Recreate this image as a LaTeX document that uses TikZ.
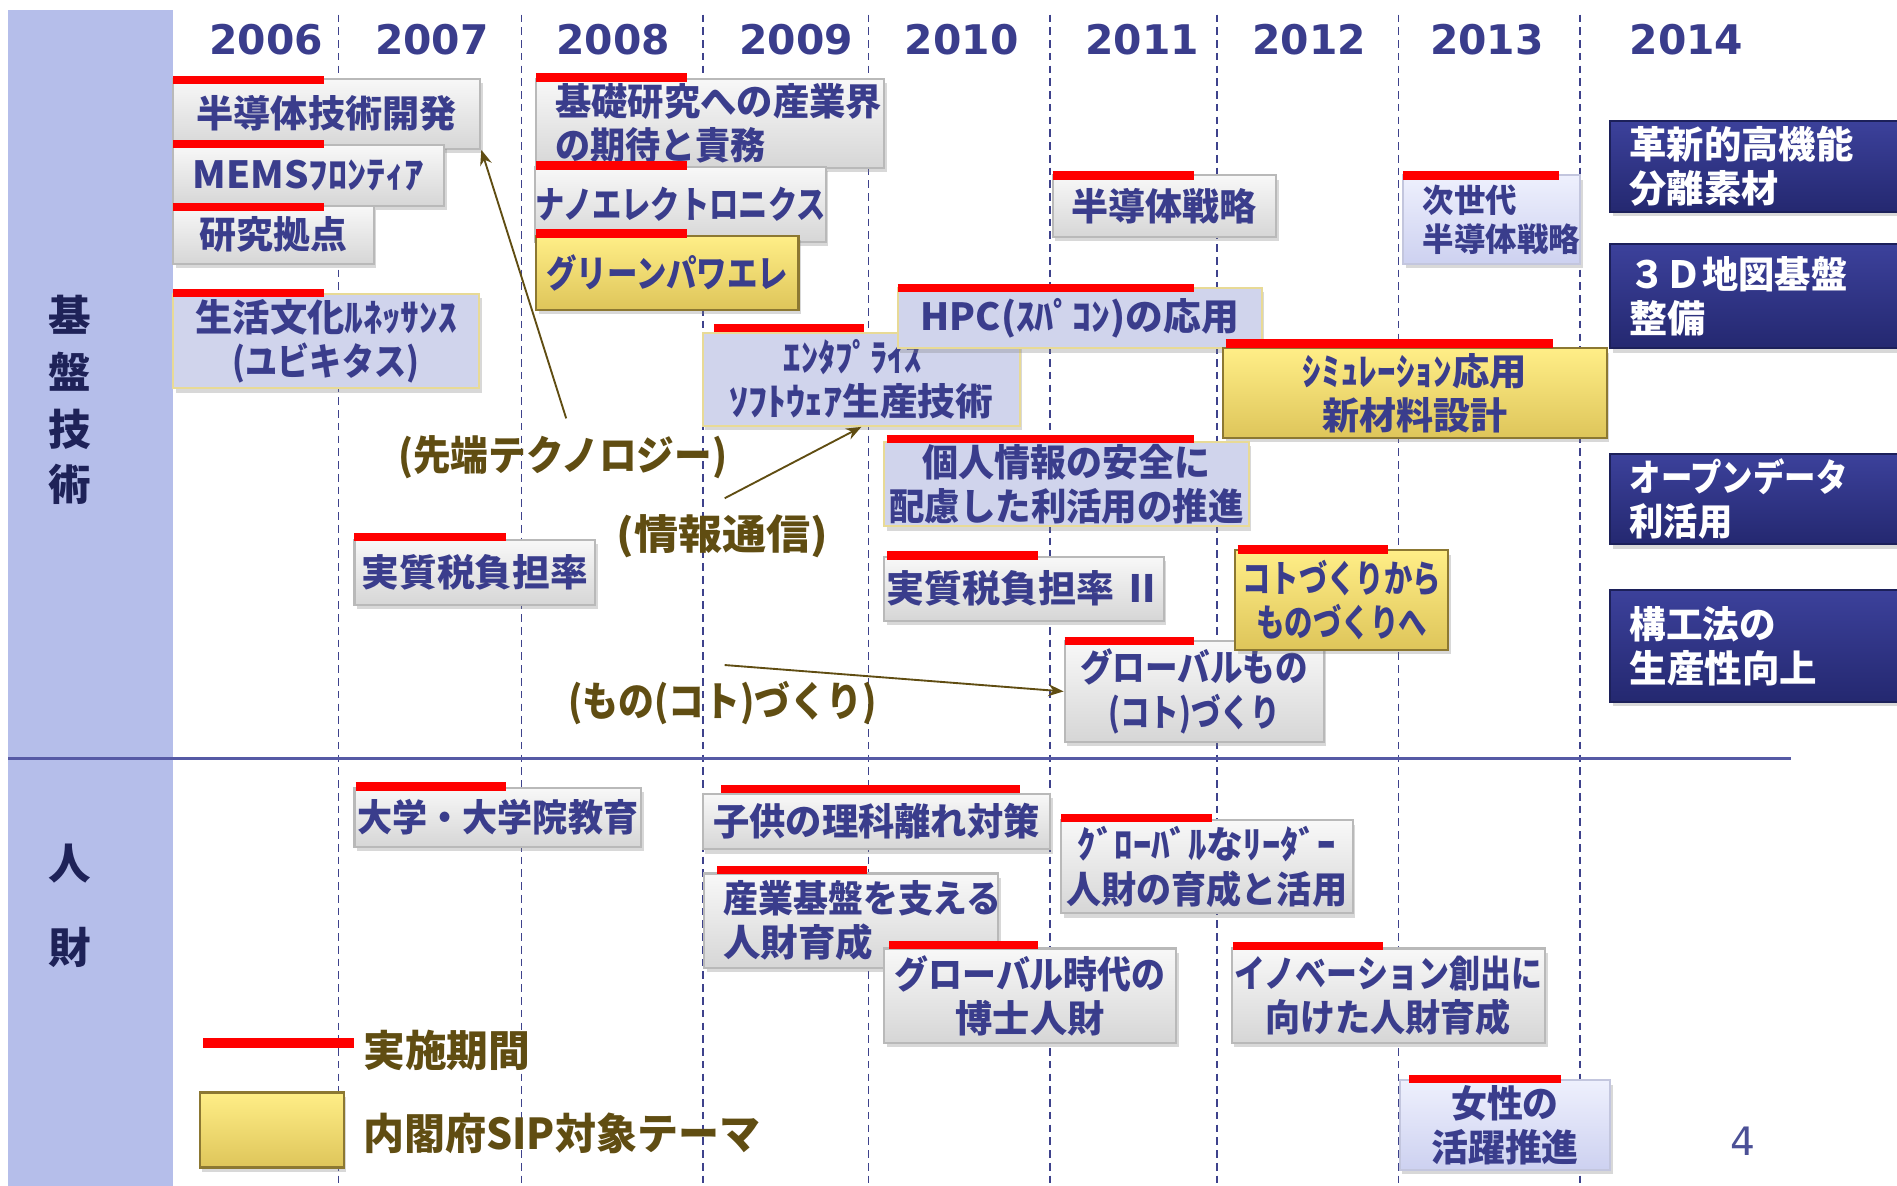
\documentclass[tikz,border=0pt]{standalone}
\usepackage{fontspec}
\usepackage{graphicx}
\usetikzlibrary{shadows,arrows.meta}
\newfontfamily\jp{Noto Sans CJK JP}
\newfontfamily\yr{DejaVu Sans}
\newlength\pxu
\setlength\pxu{0.025cm}
\newcommand\fw[2]{\resizebox{#1\pxu}{\height}{#2}}
\newcommand\ctr[1]{\vbox{\tabskip=0pt\halign{\hfil##\hfil\cr#1\crcr}}}
\newcommand\lft[2]{\vbox{\tabskip=0pt\halign{\hbox to #1\pxu{##\hfil}\cr#2\crcr}}}
\newcommand\bx[7]{\node[#1, minimum width={(#5-#3)*0.025cm}, minimum height={(#6-#4)*0.025cm}] (#2) at ({(#3+#5)/2},{(#4+#6)/2}) {#7};}
\definecolor{txt}{RGB}{58,61,140}
\definecolor{olivet}{RGB}{96,77,18}
\definecolor{band}{RGB}{181,190,234}
\definecolor{vline}{RGB}{62,66,140}
\definecolor{hline}{RGB}{86,90,165}
\definecolor{navyt}{RGB}{30,34,88}
\definecolor{barred}{RGB}{255,0,0}
\definecolor{graytop}{RGB}{248,248,248}
\definecolor{graybot}{RGB}{214,214,214}
\definecolor{grayedge}{RGB}{185,185,185}
\definecolor{lavfill}{RGB}{208,212,236}
\definecolor{lavedge}{RGB}{232,218,150}
\definecolor{lltop}{RGB}{238,240,253}
\definecolor{llbot}{RGB}{205,209,240}
\definecolor{lledge}{RGB}{195,198,222}
\definecolor{yeltop}{RGB}{255,238,135}
\definecolor{yelbot}{RGB}{222,197,90}
\definecolor{yeledge}{RGB}{140,120,50}
\definecolor{navtop}{RGB}{60,65,155}
\definecolor{navbot}{RGB}{36,40,112}
\definecolor{navedge}{RGB}{28,32,90}
\definecolor{pagenum}{RGB}{75,80,150}
\tikzset{
  tbox/.style={inner sep=0pt, line width=1.2pt, text=txt,
    font=\jp\bfseries\fontsize{22}{26}\selectfont,
    drop shadow={shadow xshift=1.5pt, shadow yshift=-2.5pt, opacity=0.3}},
  graybox/.style={tbox, draw=grayedge, top color=graytop, bottom color=graybot},
  lavbox/.style={tbox, draw=lavedge, fill=lavfill},
  lightbox/.style={tbox, draw=lledge, top color=lltop, bottom color=llbot},
  yelbox/.style={tbox, draw=yeledge, top color=yeltop, bottom color=yelbot},
  navbox/.style={tbox, draw=navedge, top color=navtop, bottom color=navbot, text=white},
  redbar/.style={draw=barred, line width=5pt},
  vl/.style={draw=vline, line width=0.8pt, dash pattern=on 4.5pt off 3pt},
  yearlab/.style={text=txt, font=\yr\bfseries\fontsize{24}{28}\selectfont, inner sep=0pt},
  sidelab/.style={text=navyt, font=\jp\bfseries\fontsize{25}{30}\selectfont, inner sep=0pt},
  catlab/.style={text=olivet, font=\jp\bfseries\fontsize{24}{28}\selectfont, inner sep=0pt},
  arr/.style={draw=olivet, line width=1.1pt, -{Stealth[length=9pt,width=7pt]}},
}
\begin{document}
\begin{tikzpicture}[x=0.025cm, y=-0.025cm]
\useasboundingbox (0,0) rectangle (1568,980);
\clip (0,0) rectangle (1568,980);
\fill[white] (0,0) rectangle (1568,980);
\fill[band] (7,8) rectangle (143,980);
\foreach \x in {280,431,581,718,868,1006,1156,1306} \draw[vl] (\x,12) -- (\x,980);
\draw[draw=hline, line width=1.5pt] (7,627) -- (1480,627);

% years
\node[yearlab] (y06) at (220,33) {2006};
\node[yearlab] (y07) at (357,33) {2007};
\node[yearlab] (y08) at (507,33) {2008};
\node[yearlab] (y09) at (658,33) {2009};
\node[yearlab] (y10) at (795,33) {2010};
\node[yearlab] (y11) at (944,33) {2011};
\node[yearlab] (y12) at (1082,33) {2012};
\node[yearlab] (y13) at (1229,33) {2013};
\node[yearlab] (y14) at (1394,33) {2014};

% side labels
\node[sidelab] (s1) at (58,260) {基};
\node[sidelab] (s2) at (58,307) {盤};
\node[sidelab] (s3) at (58,355) {技};
\node[sidelab] (s4) at (58,400) {術};
\node[sidelab] (s5) at (58,714) {人};
\node[sidelab] (s6) at (58,783) {財};

% technology boxes
\bx{graybox}{semi}{143}{65}{397}{123}{\fw{215}{半導体技術開発}}
\draw[redbar] (143,66) -- (268,66);
\bx{graybox}{mems}{143}{120}{367}{170}{\fw{191}{MEMSﾌﾛﾝﾃｨｱ}}
\draw[redbar] (143,119) -- (268,119);
\bx{graybox}{kyoten}{143}{170}{309}{218}{\fw{122}{研究拠点}}
\draw[redbar] (143,171) -- (268,171);
\bx{lavbox}{seikatsu}{143}{243}{396}{321}{\ctr{\fw{216}{生活文化ﾙﾈｯｻﾝｽ}\cr\fw{154}{(ユビキタス)}}}
\draw[redbar] (143,242) -- (268,242);

\bx{graybox}{kiso}{443}{65}{731}{139}{\lft{256}{\fw{270}{基礎研究への産業界}\cr\fw{174}{の期待と責務}}}
\draw[redbar] (443,64) -- (568,64);
\bx{graybox}{nano}{443}{138}{682}{200}{\fw{240}{ナノエレクトロニクス}}
\draw[redbar] (443,137) -- (568,137);
\bx{yelbox}{green}{443}{195}{660}{256}{\fw{200}{グリーンパワエレ}}
\draw[redbar] (443,193) -- (568,193);

\bx{lavbox}{ent}{581}{275}{843}{352}{\ctr{\fw{128}{ｴﾝﾀﾌﾟﾗｲｽﾞ}\cr\fw{218}{ｿﾌﾄｳｪｱ生産技術}}}
\draw[redbar] (590,271) -- (714,271);
\bx{lavbox}{hpc}{742}{238}{1043}{288}{\fw{263}{HPC(ｽﾊﾟｺﾝ)の応用}}
\draw[redbar] (742,238) -- (987,238);

\bx{graybox}{semistr}{870}{145}{1055}{196}{\fw{153}{半導体戦略}}
\draw[redbar] (870,145) -- (987,145);
\bx{lightbox, font=\jp\bfseries\fontsize{19}{23}\selectfont}{jisedai}{1160}{145}{1306}{218}{\lft{114}{\fw{78}{次世代}\cr\fw{130}{半導体戦略}}}
\draw[redbar] (1160,145) -- (1289,145);

\bx{navbox}{kakushin}{1331}{100}{1575}{175}{\lft{212}{\fw{185}{革新的高機能}\cr\fw{123}{分離素材}}}
\bx{navbox}{map3d}{1331}{202}{1575}{288}{\lft{212}{\fw{180}{３Ｄ地図基盤}\cr\fw{63}{整備}}}

\bx{yelbox}{sim}{1011}{288}{1328}{362}{\ctr{\fw{185}{ｼﾐｭﾚｰｼｮﾝ応用}\cr\fw{153}{新材料設計}}}
\draw[redbar] (1013,284) -- (1284,284);

\bx{lavbox}{kojin}{731}{365}{1032}{435}{\ctr{\fw{238}{個人情報の安全に}\cr\fw{293}{配慮した利活用の推進}}}
\draw[redbar] (733,363) -- (987,363);

\bx{graybox}{zei}{293}{446}{492}{500}{\fw{187}{実質税負担率}}
\draw[redbar] (293,444) -- (418,444);
\bx{graybox}{zei2}{731}{460}{962}{513}{\fw{227}{実質税負担率 Ⅱ}}
\draw[redbar] (733,459) -- (858,459);

\bx{graybox}{glob}{880}{530}{1094}{613}{\ctr{\fw{188}{グローバルもの}\cr\fw{142}{(コト)づくり}}}
\draw[redbar] (880,530) -- (987,530);
\bx{yelbox}{koto}{1021}{455}{1197}{537}{\ctr{\fw{164}{コトづくりから}\cr\fw{141}{ものづくりへ}}}
\draw[redbar] (1023,454) -- (1147,454);

\bx{navbox}{open}{1331}{375}{1575}{450}{\lft{212}{\fw{180}{オープンデータ}\cr\fw{85}{利活用}}}
\bx{navbox}{koho}{1331}{488}{1575}{580}{\lft{212}{\fw{121}{構工法の}\cr\fw{155}{生産性向上}}}

% human resources boxes
\bx{graybox}{daigaku}{293}{651}{530}{700}{\fw{232}{大学・大学院教育}}
\draw[redbar] (294,650) -- (418,650);
\bx{graybox}{kodomo}{581}{656}{868}{702}{\fw{270}{子供の理科離れ対策}}
\draw[redbar] (596,652) -- (843,652);
\bx{graybox}{sangyo}{582}{722}{825}{800}{\lft{211}{\fw{230}{産業基盤を支える}\cr\fw{124}{人財育成}}}
\draw[redbar] (593,719) -- (717,719);
\bx{graybox}{hakase}{731}{784}{972}{862}{\ctr{\fw{224}{グローバル時代の}\cr\fw{123}{博士人財}}}
\draw[redbar] (735,781) -- (858,781);
\bx{graybox}{leader}{877}{678}{1118}{755}{\ctr{\fw{213}{ｸﾞﾛｰﾊﾞﾙなﾘｰﾀﾞｰ}\cr\fw{232}{人財の育成と活用}}}
\draw[redbar] (877,676) -- (1002,676);
\bx{graybox}{innov}{1018}{784}{1277}{862}{\ctr{\fw{255}{イノベーション創出に}\cr\fw{203}{向けた人財育成}}}
\draw[redbar] (1019,782) -- (1143,782);
\bx{lightbox}{josei}{1157}{893}{1331}{967}{\ctr{\fw{89}{女性の}\cr\fw{122}{活躍推進}}}
\draw[redbar] (1165,892) -- (1290,892);

% category labels and arrows
\node[catlab] (lab1) at (465,378) {\fw{272}{(先端テクノロジー)}};
\node[catlab] (lab2) at (597,443) {\fw{175}{(情報通信)}};
\node[catlab] (lab3) at (597,581) {\fw{255}{(もの(コト)づくり)}};
\draw[arr] ([shift={(3,-14)}]lab1.north) -- (semi.south east);
\draw[arr] ([shift={(2,-13)}]lab2.north) -- (ent.south);
\draw[arr] ([shift={(2,-13)}]lab3.north) -- (glob.west);

% legend
\draw[redbar, line width=5.5pt] (168,862) -- (293,862);
\node[catlab, anchor=west, font=\jp\bfseries\fontsize{25}{30}\selectfont] (leg1) at (300,868) {\fw{138}{実施期間}};
\bx{yelbox}{legsq}{165}{903}{284}{965}{}
\node[catlab, anchor=west, font=\jp\bfseries\fontsize{25}{30}\selectfont] (leg2) at (300,937) {\fw{328}{内閣府SIP対象テーマ}};

\node[text=pagenum, font=\yr\fontsize{23}{27}\selectfont, inner sep=0pt] (pg) at (1441,943) {4};
\end{tikzpicture}
\end{document}
